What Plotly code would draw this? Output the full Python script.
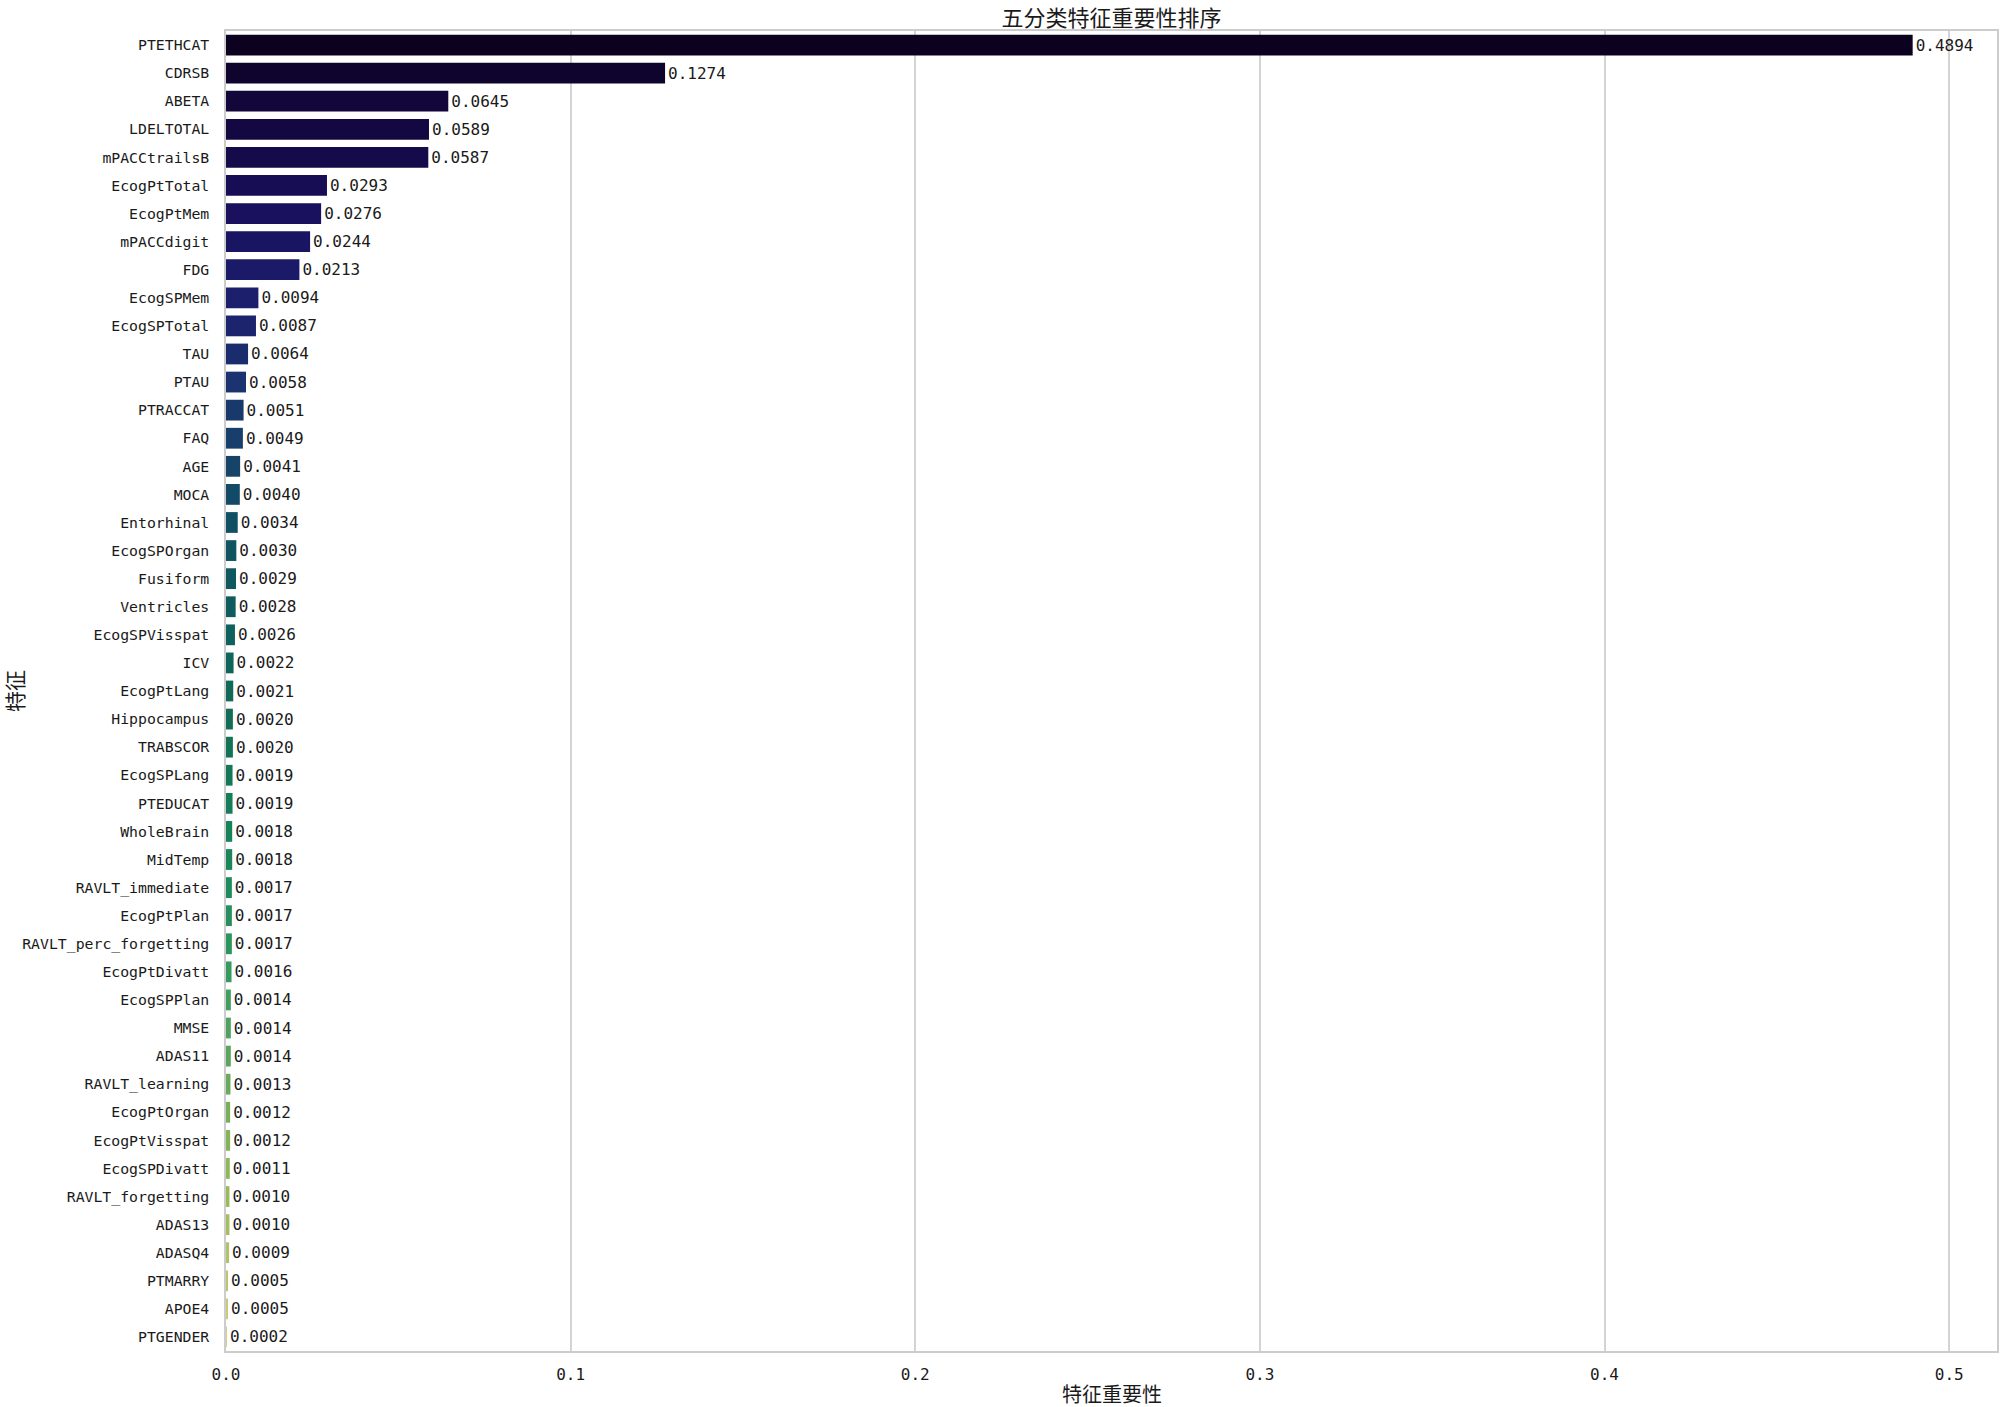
import plotly.graph_objects as go

features = ["PTETHCAT", "CDRSB", "ABETA", "LDELTOTAL", "mPACCtrailsB", "EcogPtTotal",
            "EcogPtMem", "mPACCdigit", "FDG", "EcogSPMem", "EcogSPTotal", "TAU", "PTAU",
            "PTRACCAT", "FAQ", "AGE", "MOCA", "Entorhinal", "EcogSPOrgan", "Fusiform",
            "Ventricles", "EcogSPVisspat", "ICV", "EcogPtLang", "Hippocampus", "TRABSCOR",
            "EcogSPLang", "PTEDUCAT", "WholeBrain", "MidTemp", "RAVLT_immediate",
            "EcogPtPlan", "RAVLT_perc_forgetting", "EcogPtDivatt", "EcogSPPlan", "MMSE",
            "ADAS11", "RAVLT_learning", "EcogPtOrgan", "EcogPtVisspat", "EcogSPDivatt",
            "RAVLT_forgetting", "ADAS13", "ADASQ4", "PTMARRY", "APOE4", "PTGENDER"]
importance = [0.4894, 0.1274, 0.0645, 0.0589, 0.0587, 0.0293, 0.0276, 0.0244, 0.0213,
              0.0094, 0.0087, 0.0064, 0.0058, 0.0051, 0.0049, 0.0041, 0.0040, 0.0034,
              0.0030, 0.0029, 0.0028, 0.0026, 0.0022, 0.0021, 0.0020, 0.0020, 0.0019,
              0.0019, 0.0018, 0.0018, 0.0017, 0.0017, 0.0017, 0.0016, 0.0014, 0.0014,
              0.0014, 0.0013, 0.0012, 0.0012, 0.0011, 0.0010, 0.0010, 0.0009, 0.0005,
              0.0005, 0.0002]
x_ticks = [0.0, 0.1, 0.2, 0.3, 0.4, 0.5]
x_tick_labels = ["0.0", "0.1", "0.2", "0.3", "0.4", "0.5"]

title_text = "五分类特征重要性排序"
x_title = "特征重要性"
y_title = "特征"

# palette anchors (position in 0..1, colour)
anchors = [(0.00, "#0c0220"), (0.043, "#12063a"), (0.087, "#150a4a"), (0.13, "#19105e"),
           (0.174, "#1b1a68"), (0.217, "#1c246e"), (0.261, "#1b336e"), (0.304, "#183e6b"),
           (0.348, "#134a66"), (0.391, "#105462"), (0.435, "#0f5c5e"), (0.478, "#0f6559"),
           (0.522, "#116e55"), (0.587, "#157d57"), (0.652, "#1d8b5a"), (0.717, "#349a5e"),
           (0.783, "#5aa65c"), (0.848, "#84b456"), (0.913, "#a6bf5e"), (0.957, "#bcc76c"),
           (1.00, "#d4d488")]


def hex2rgb(h):
    h = h.lstrip("#")
    return tuple(int(h[i:i + 2], 16) for i in (0, 2, 4))


def sample(t):
    for (p0, c0), (p1, c1) in zip(anchors[:-1], anchors[1:]):
        if p0 <= t <= p1:
            f = 0 if p1 == p0 else (t - p0) / (p1 - p0)
            a, b = hex2rgb(c0), hex2rgb(c1)
            return "rgb(%d,%d,%d)" % tuple(round(a[i] + (b[i] - a[i]) * f) for i in range(3))
    return anchors[-1][1]


n = len(features)
colors = [sample(i / (n - 1)) for i in range(n)]

W, H = 2000, 1407
L, R, T, B = 226, 3, 31, 56
PW, PH = W - L - R, H - T - B

fig = go.Figure(go.Bar(
    x=importance, y=features, orientation="h",
    marker=dict(color=colors, line=dict(width=0)),
    width=0.74,
    text=importance, texttemplate="%{x:.4f}", textposition="outside",
    textfont=dict(family="DejaVu Sans Mono", size=16, color="#1a1a1a"),
    cliponaxis=False,
))

fig.update_layout(
    width=W, height=H,
    margin=dict(l=L, r=R, t=T, b=B, autoexpand=False),
    paper_bgcolor="white", plot_bgcolor="white",
    showlegend=False,
    title=dict(text=title_text, x=(L + (W - R)) / 2 / W, xanchor="center",
               y=1 - 18 / H, yanchor="middle", yref="container",
               font=dict(family="Noto Sans CJK SC", size=22, color="#1a1a1a")),
    xaxis=dict(range=[0, max(importance) * 1.05], tickvals=x_ticks, ticktext=x_tick_labels,
               showgrid=True, gridcolor="#d4d4d4", gridwidth=1.5, zeroline=False,
               showline=True, linecolor="#cccccc", linewidth=1.5, mirror=True,
               ticks="", ticklabelstandoff=8, automargin=False,
               tickfont=dict(family="DejaVu Sans Mono", size=16, color="#1a1a1a")),
    yaxis=dict(range=[n - 0.5, -0.5], showgrid=False, zeroline=False,
               showline=True, linecolor="#cccccc", linewidth=1.5, mirror=True,
               ticks="", ticklabelstandoff=12, automargin=False,
               tickfont=dict(family="DejaVu Sans Mono", size=14.8, color="#1a1a1a")),
    annotations=[
        dict(text=x_title, xref="paper", yref="paper", x=0.5, y=-(1393 - (H - B)) / PH,
             xanchor="center", yanchor="middle", showarrow=False,
             font=dict(family="Noto Sans CJK SC", size=20, color="#1a1a1a")),
        dict(text=y_title, xref="paper", yref="paper", x=-(L - 14) / PW, y=0.5,
             xanchor="center", yanchor="middle", showarrow=False, textangle=-90,
             font=dict(family="Noto Sans CJK SC", size=21, color="#1a1a1a")),
    ],
)

fig.write_html("out.html", config={"displayModeBar": False},
               post_script="document.body.style.margin='0';document.body.style.padding='0';")
